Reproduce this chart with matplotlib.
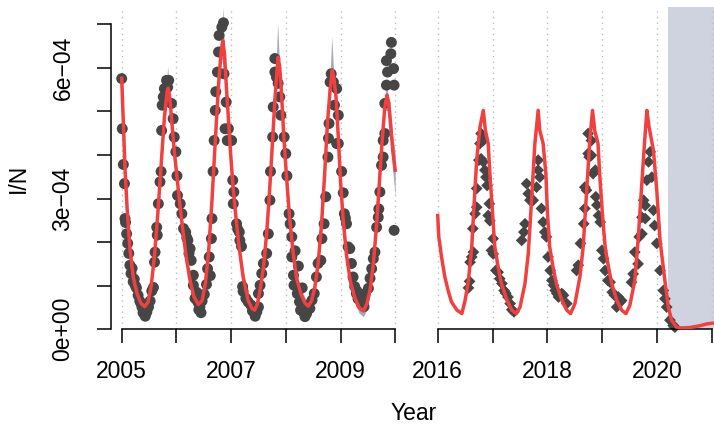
import numpy as np
import matplotlib
matplotlib.use("Agg")
import matplotlib.pyplot as plt

plt.rcParams["font.family"] = ["Liberation Sans", "DejaVu Sans"]

# values are in units of 1e-4 (I/N)

# ---- left period 2005-2010: fitted curve ----
fit_left_t = [2005.00, 2005.03, 2005.06, 2005.10, 2005.15, 2005.21, 2005.28, 2005.35, 2005.42, 2005.48,
              2005.54, 2005.60, 2005.66, 2005.72, 2005.78, 2005.83, 2005.85, 2005.88, 2005.92, 2005.96,
              2006.00, 2006.06, 2006.12, 2006.18, 2006.25, 2006.32, 2006.40, 2006.47, 2006.53, 2006.59,
              2006.65, 2006.71, 2006.77, 2006.82, 2006.85, 2006.88, 2006.91, 2006.95, 2006.99, 2007.04,
              2007.09, 2007.14, 2007.22, 2007.31, 2007.38, 2007.43, 2007.48, 2007.53, 2007.59, 2007.65,
              2007.70, 2007.75, 2007.80, 2007.84, 2007.86, 2007.89, 2007.92, 2007.96, 2008.01, 2008.07,
              2008.13, 2008.20, 2008.28, 2008.35, 2008.41, 2008.47, 2008.53, 2008.59, 2008.65, 2008.71,
              2008.76, 2008.81, 2008.85, 2008.88, 2008.92, 2008.96, 2009.00, 2009.05, 2009.11, 2009.18,
              2009.26, 2009.34, 2009.42, 2009.48, 2009.54, 2009.60, 2009.66, 2009.71, 2009.76, 2009.81,
              2009.85, 2009.88, 2009.92, 2009.96, 2010.00]
fit_left_v = [5.76, 4.75, 3.70, 2.75, 1.85, 1.20, 0.82, 0.60, 0.52, 0.62,
              1.00, 1.70, 2.65, 3.75, 4.85, 5.45, 5.53, 5.30, 4.70, 4.10,
              3.62, 2.90, 2.25, 1.65, 1.12, 0.75, 0.57, 0.66, 1.05, 1.80,
              2.95, 4.30, 5.60, 6.40, 6.62, 6.30, 5.64, 4.85, 4.05, 3.20,
              2.55, 1.95, 1.20, 0.67, 0.48, 0.44, 0.58, 0.90, 1.40, 2.20,
              3.10, 4.15, 5.25, 5.95, 6.24, 6.00, 5.45, 4.50, 3.55, 2.55,
              1.80, 1.15, 0.80, 0.60, 0.53, 0.65, 0.96, 1.50, 2.35, 3.55,
              4.70, 5.50, 5.95, 5.75, 5.30, 4.40, 3.40, 2.50, 1.70, 1.10,
              0.73, 0.50, 0.42, 0.58, 0.90, 1.50, 2.40, 3.35, 4.30, 5.10,
              5.37, 5.20, 4.63, 4.05, 3.65]

# uncertainty spikes at the peaks (top of the ribbon)
spike_t = [2005.85, 2006.86, 2007.86, 2008.85, 2009.85]
spike_top = [6.02, 7.38, 7.02, 6.71, 5.79]
# widening of the ribbon at the end of the series
end_t = [2009.90, 2009.95, 2010.00]
end_lo = [4.60, 3.70, 3.05]
end_hi = [5.30, 4.50, 4.05]

# ---- left period: observations ----
obs_left_t = [2005.00, 2005.01, 2005.03, 2005.05, 2005.06, 2005.07, 2005.09, 2005.11, 2005.13, 2005.15,
              2005.17, 2005.21, 2005.25, 2005.27, 2005.30, 2005.33, 2005.37, 2005.39, 2005.41, 2005.43,
              2005.46, 2005.49, 2005.52, 2005.55, 2005.58, 2005.60, 2005.61, 2005.64, 2005.65, 2005.67,
              2005.70, 2005.72, 2005.73, 2005.74, 2005.76, 2005.78, 2005.82, 2005.86, 2005.84, 2005.91,
              2005.94, 2005.96, 2005.99, 2006.01, 2006.02, 2006.07, 2006.10, 2006.13, 2006.17, 2006.21,
              2006.23, 2006.27, 2006.31, 2006.31, 2006.34, 2006.39, 2006.41, 2006.43, 2006.45, 2006.47,
              2006.51, 2006.55, 2006.57, 2006.60, 2006.62, 2006.64, 2006.65, 2006.67, 2006.69, 2006.71,
              2006.72, 2006.75, 2006.77, 2006.78, 2006.83, 2006.86, 2006.87, 2006.89, 2006.91, 2006.93,
              2006.95, 2007.01, 2007.03, 2007.04, 2007.05, 2007.10, 2007.15, 2007.16, 2007.21, 2007.22,
              2007.27, 2007.31, 2007.36, 2007.41, 2007.44, 2007.47, 2007.50, 2007.50, 2007.53, 2007.56,
              2007.59, 2007.65, 2007.68, 2007.71, 2007.72, 2007.76, 2007.77, 2007.80, 2007.80, 2007.83,
              2007.86, 2007.89, 2007.91, 2007.97, 2008.00, 2008.02, 2008.06, 2008.08, 2008.11, 2008.11,
              2008.14, 2008.15, 2008.21, 2008.25, 2008.27, 2008.32, 2008.35, 2008.38, 2008.41, 2008.44,
              2008.48, 2008.52, 2008.56, 2008.59, 2008.64, 2008.66, 2008.70, 2008.73, 2008.77, 2008.78,
              2008.79, 2008.81, 2008.83, 2008.87, 2008.89, 2008.93, 2008.96, 2008.93, 2008.96, 2009.02,
              2009.05, 2009.07, 2009.11, 2009.14, 2009.17, 2009.20, 2009.23, 2009.26, 2009.29, 2009.32,
              2009.35, 2009.38, 2009.41, 2009.45, 2009.51, 2009.54, 2009.57, 2009.60, 2009.63, 2009.66,
              2009.69, 2009.70, 2009.72, 2009.75, 2009.78, 2009.78, 2009.81, 2009.81, 2009.84, 2009.86,
              2009.84, 2009.92, 2009.93, 2009.97, 2009.98, 2009.98,
              2005.19, 2005.23, 2005.35, 2005.44, 2006.19, 2006.25, 2006.37, 2007.12, 2007.19, 2007.39,
              2008.17, 2008.23, 2008.30, 2009.09, 2009.30, 2009.40, 2009.43]
obs_left_v = [5.75, 4.60, 3.78, 3.34, 2.54, 2.45, 2.19, 1.97, 1.74, 1.47,
              1.28, 1.09, 1.00, 0.95, 0.78, 0.65, 0.51, 0.38, 0.44, 0.30,
              0.40, 0.51, 0.65, 0.88, 0.96, 1.54, 1.77, 2.34, 2.16, 2.88,
              3.38, 3.62, 4.56, 5.14, 5.33, 5.52, 5.71, 5.71, 5.55, 5.18,
              4.83, 4.41, 4.07, 3.52, 3.07, 2.88, 2.65, 2.31, 2.23, 2.04,
              1.74, 1.58, 1.24, 1.01, 0.71, 0.63, 0.45, 0.51, 0.38, 0.65,
              0.80, 1.03, 1.39, 1.66, 1.23, 2.08, 2.54, 3.62, 4.33, 5.02,
              5.45, 5.90, 6.36, 6.74, 6.93, 7.03, 5.86, 4.60, 5.21, 4.33,
              4.60, 4.33, 3.42, 2.88, 3.15, 2.42, 2.23, 2.04, 0.98, 0.87,
              0.71, 0.63, 0.56, 0.48, 0.30, 0.40, 0.51, 0.82, 1.01, 1.28,
              1.51, 1.74, 2.19, 2.96, 3.62, 4.41, 5.10, 5.90, 6.21, 5.78,
              5.64, 5.33, 4.91, 4.41, 4.03, 3.52, 2.65, 2.42, 2.12, 1.66,
              1.24, 1.01, 0.82, 0.63, 0.44, 0.40, 0.29, 0.36, 0.55, 0.48,
              0.67, 0.82, 1.20, 1.51, 1.58, 2.08, 2.42, 3.04, 3.95, 4.38,
              4.72, 5.67, 5.86, 5.67, 5.14, 5.52, 4.91, 4.26, 4.26, 3.62,
              3.13, 2.65, 2.42, 1.89, 1.85, 1.51, 1.20, 0.98, 0.82, 0.70,
              0.79, 0.59, 0.70, 0.82, 0.94, 1.17, 1.39, 1.62, 1.77, 2.34,
              2.57, 2.76, 3.15, 3.76, 3.95, 4.33, 4.49, 5.18, 5.60, 5.90,
              6.16, 6.32, 6.58, 5.98, 5.60, 2.27,
              1.40, 1.15, 0.60, 0.36, 2.10, 1.85, 0.85, 2.30, 1.90, 0.42,
              1.80, 1.45, 0.95, 2.55, 0.88, 0.66, 0.52]

# ---- right period 2016-2021: fitted curve ----
fit_right_t = [2016.00, 2016.02, 2016.07, 2016.13, 2016.19, 2016.25, 2016.35, 2016.44, 2016.50, 2016.56,
               2016.62, 2016.66, 2016.71, 2016.77, 2016.83, 2016.87, 2016.92, 2016.95, 2017.00, 2017.04,
               2017.10, 2017.16, 2017.26, 2017.35, 2017.43, 2017.50, 2017.59, 2017.65, 2017.71, 2017.77,
               2017.83, 2017.86, 2017.92, 2017.97, 2018.00, 2018.04, 2018.10, 2018.16, 2018.26, 2018.35,
               2018.42, 2018.50, 2018.59, 2018.65, 2018.71, 2018.77, 2018.82, 2018.86, 2018.92, 2018.95,
               2019.00, 2019.05, 2019.11, 2019.17, 2019.26, 2019.35, 2019.43, 2019.50, 2019.59, 2019.65,
               2019.71, 2019.77, 2019.81, 2019.85, 2019.93, 2019.99, 2020.05, 2020.13, 2020.20, 2020.26,
               2020.35, 2020.44, 2020.59, 2020.77, 2020.89, 2021.00]
fit_right_v = [2.61, 2.12, 1.66, 1.20, 0.89, 0.63, 0.44, 0.36, 0.67, 1.12,
               1.89, 2.80, 3.88, 4.64, 5.02, 4.56, 4.26, 3.57, 2.65, 1.89,
               1.43, 1.05, 0.67, 0.44, 0.36, 0.51, 1.05, 1.74, 2.96, 4.26,
               5.02, 4.56, 4.26, 3.57, 2.65, 1.89, 1.43, 1.05, 0.67, 0.44,
               0.36, 0.59, 1.20, 1.89, 3.11, 4.33, 5.02, 4.56, 4.26, 3.57,
               2.65, 1.89, 1.43, 1.05, 0.67, 0.44, 0.36, 0.55, 1.12, 2.04,
               3.19, 4.33, 5.02, 4.64, 4.10, 3.19, 2.04, 1.20, 0.51, 0.21,
               0.05, 0.03, 0.04, 0.08, 0.12, 0.14]

# ---- right period: observations ----
obs_right_t = [2016.56, 2016.58, 2016.59, 2016.62, 2016.65, 2016.64, 2016.68, 2016.71, 2016.71, 2016.75,
               2016.79, 2016.83, 2016.77, 2016.79, 2016.83, 2016.86, 2016.88, 2016.90, 2016.94, 2016.92,
               2016.95, 2017.01, 2016.98, 2017.01, 2017.06, 2017.10, 2017.13, 2017.17, 2017.21, 2017.24,
               2017.28, 2017.32, 2017.35, 2017.39, 2017.53, 2017.57, 2017.59, 2017.62, 2017.65, 2017.68,
               2017.74, 2017.80, 2017.83, 2017.83, 2017.86, 2017.89, 2017.92, 2017.95, 2017.98, 2018.01,
               2018.05, 2018.08, 2018.11, 2018.14, 2018.17, 2018.20, 2018.26, 2018.29, 2018.35, 2018.53,
               2018.56, 2018.60, 2018.66, 2018.68, 2018.68, 2018.71, 2018.74, 2018.76, 2018.80, 2018.83,
               2018.74, 2018.80, 2018.87, 2018.88, 2018.90, 2018.93, 2018.96, 2018.99, 2019.02, 2019.05,
               2019.10, 2019.14, 2019.18, 2019.22, 2019.26, 2019.29, 2019.32, 2019.35, 2019.53, 2019.56,
               2019.59, 2019.65, 2019.67, 2019.72, 2019.72, 2019.78, 2019.78, 2019.75, 2019.81, 2019.84,
               2019.87, 2019.90, 2019.93, 2019.95, 2019.99, 2020.05, 2020.11, 2020.14, 2020.17, 2020.23,
               2020.29, 2020.32]
obs_right_v = [0.95, 1.10, 1.54, 1.66, 1.77, 2.31, 2.65, 2.80, 3.23, 3.88,
               3.91, 3.84, 4.26, 4.49, 4.33, 3.65, 3.49, 3.30, 2.88, 2.61,
               2.49, 2.08, 1.81, 1.73, 1.35, 1.31, 1.16, 1.05, 0.89, 0.83,
               0.74, 0.59, 0.45, 0.40, 2.04, 2.23, 2.42, 3.34, 3.11, 2.96,
               2.96, 3.26, 3.88, 3.65, 3.49, 2.77, 2.46, 2.23, 2.12, 1.66,
               1.35, 1.12, 1.01, 0.89, 0.82, 0.74, 0.82, 0.78, 0.59, 1.35,
               1.47, 1.97, 2.42, 2.77, 3.26, 3.19, 4.03, 3.95, 3.99, 3.57,
               4.49, 4.33, 3.65, 3.04, 2.85, 2.61, 2.46, 1.81, 1.62, 1.35,
               1.12, 1.08, 0.85, 0.78, 0.51, 0.74, 0.62, 0.66, 1.08, 1.27,
               1.77, 1.50, 2.12, 2.19, 2.57, 2.54, 2.84, 2.96, 3.42, 3.84,
               4.07, 3.49, 2.73, 2.38, 1.97, 1.35, 0.89, 0.70, 0.51, 0.21,
               0.09, 0.05]

shade_start = 2020.20
left_years = [2005, 2006, 2007, 2008, 2009, 2010]
right_years = [2016, 2017, 2018, 2019, 2020, 2021]
left_labels = ["2005", "", "2007", "", "2009", ""]
right_labels = ["2016", "", "2018", "", "2020", ""]
y_ticks = [0, 1, 2, 3, 4, 5, 6, 7]
y_labels = ["0e+00", "", "", "3e\u221204", "", "", "6e\u221204", ""]

red = "#f04040"
dots = "#464646"
ribbon = "#a7a8bf"
shade = "#cfd2df"
grid = "#bdbdbd"

W, H = 714, 430
fig = plt.figure(figsize=(W / 100, H / 100), dpi=100)

y_bottom_px, y_top_px = 329.3, 7.0
px_per_unit = 43.6
ylim = (0, (y_bottom_px - y_top_px) / px_per_unit)


def make_axes(x0_px, x1_px, year0, year0_px, px_per_year):
    ax = fig.add_axes([x0_px / W, (H - y_bottom_px) / H,
                       (x1_px - x0_px) / W, (y_bottom_px - y_top_px) / H])
    ax.set_xlim(year0 - (year0_px - x0_px) / px_per_year,
                year0 + (x1_px - year0_px) / px_per_year)
    ax.set_ylim(*ylim)
    for s in ["top", "right"]:
        ax.spines[s].set_visible(False)
    return ax


axL = make_axes(110.7, 402, 2005, 121.7, 54.7)
axR = make_axes(428, 714, 2016, 437.7, 54.9)

tick_kw = dict(length=10, width=1.1, labelsize=16.5, color="black")

# left panel
for yr in left_years:
    axL.axvline(yr, color=grid, lw=1.0, ls=(0, (1, 3)), zorder=0)
axL.fill_between(fit_left_t, np.array(fit_left_v) - 0.13, np.array(fit_left_v) + 0.13,
                 color=ribbon, lw=0, zorder=1)
for tp, top in zip(spike_t, spike_top):
    ts = [tp - 0.045, tp, tp + 0.045]
    base = np.interp(ts, fit_left_t, fit_left_v)
    axL.fill(ts, [base[0], top, base[2]], color=ribbon, lw=0, zorder=1)
axL.fill_between(end_t, end_lo, end_hi, color=ribbon, lw=0, zorder=1)
axL.scatter(obs_left_t, obs_left_v, s=62, color=dots, edgecolors="none", zorder=2, clip_on=False)
axL.plot(fit_left_t, fit_left_v, color=red, lw=2.5, zorder=3)

axL.spines["left"].set_bounds(0, 7)
axL.spines["bottom"].set_bounds(2005, 2010)
axL.spines["left"].set_linewidth(1.1)
axL.spines["bottom"].set_linewidth(1.1)
axL.set_xticks(left_years)
axL.set_xticklabels(left_labels)
axL.set_yticks(y_ticks)
axL.set_yticklabels(y_labels, rotation=90, va="center")
axL.tick_params(axis="x", pad=12, **tick_kw)
axL.tick_params(axis="y", pad=16, **tick_kw)

# right panel
axR.axvspan(shade_start, 2022, color=shade, lw=0, zorder=0)
for yr in right_years:
    axR.axvline(yr, color=grid, lw=1.0, ls=(0, (1, 3)), zorder=0.5)
axR.scatter(obs_right_t, obs_right_v, s=36, marker="D", color=dots, edgecolors="none",
            zorder=2, clip_on=False)
axR.plot(fit_right_t, fit_right_v, color=red, lw=2.5, zorder=3)

axR.spines["left"].set_visible(False)
axR.spines["bottom"].set_bounds(2016, 2021)
axR.spines["bottom"].set_linewidth(1.1)
axR.set_yticks([])
axR.set_xticks(right_years)
axR.set_xticklabels(right_labels)
axR.tick_params(axis="x", pad=12, **tick_kw)

fig.text(18 / W, 1 - 178 / H, "I/N", rotation=90, ha="center", va="center", fontsize=16.5)
fig.text(414 / W, 1 - 413 / H, "Year", ha="center", va="center", fontsize=16.5)

fig.savefig("out.png", dpi=100)
